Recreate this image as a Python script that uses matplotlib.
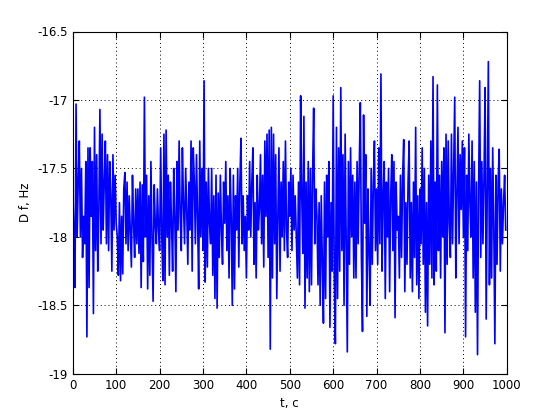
import matplotlib
matplotlib.use("Agg")
import matplotlib.pyplot as plt
import numpy as np

# frequency deviation, one value every 2.5 s
df = [
    -17.65, -17.95, -18.37, -17.03, -18.0, -17.6, -17.3, -18.0, -17.5, -18.15,
    -17.85, -18.05, -17.45, -18.73, -17.35, -18.37, -17.35, -17.85, -17.45, -18.56,
    -17.2, -18.1, -17.4, -18.25, -17.8, -17.07, -18.05, -17.25, -17.95, -17.6,
    -17.3, -18.05, -17.4, -18.1, -17.45, -17.7, -18.25, -17.4, -17.95, -17.55,
    -17.9, -18.0, -18.28, -17.75, -18.32, -17.85, -18.27, -17.65, -17.53, -18.05,
    -17.6, -18.1, -17.7, -17.95, -18.22, -17.55, -17.9, -18.15, -17.65, -18.05,
    -17.65, -18.12, -17.6, -18.37, -17.62, -18.18, -16.98, -18.0, -17.55, -18.38,
    -17.7, -18.28, -17.45, -18.0, -18.47, -17.62, -17.9, -18.05, -17.65, -17.95,
    -18.1, -17.35, -18.0, -18.32, -17.25, -18.35, -17.22, -18.0, -17.55, -18.28,
    -17.6, -17.9, -18.25, -17.5, -17.85, -18.4, -17.45, -17.95, -17.3, -17.85,
    -18.1, -17.35, -17.75, -18.05, -17.5, -17.8, -18.2, -17.6, -17.95, -17.3,
    -18.25, -17.35, -17.6, -18.05, -17.4, -17.85, -18.38, -17.3, -18.0, -17.5,
    -18.1, -16.86, -18.33, -17.6, -18.22, -17.5, -17.9, -18.05, -17.5, -18.28,
    -17.7, -18.45, -17.55, -18.52, -17.68, -18.15, -17.55, -17.95, -18.2, -17.6,
    -17.9, -17.45, -18.1, -17.7, -18.3, -17.5, -17.85, -18.5, -17.55, -18.38,
    -17.7, -17.95, -17.5, -18.22, -17.6, -17.28, -18.05, -17.7, -18.1, -17.85,
    -18.3, -17.7, -17.95, -17.45, -18.0, -17.6, -17.35, -18.2, -17.75, -18.3,
    -17.55, -17.95, -17.8, -17.4, -18.05, -17.55, -18.22, -17.3, -17.85, -17.25,
    -18.15, -17.22, -18.82, -17.2, -18.3, -17.25, -18.05, -17.4, -18.45, -17.85,
    -17.35, -18.25, -17.6, -18.0, -17.45, -18.1, -17.3, -17.95, -18.15, -17.6,
    -17.85, -17.5, -18.1, -17.55, -17.95, -17.7, -18.0, -18.3, -17.6, -18.35,
    -16.97, -17.7, -18.12, -17.12, -18.52, -17.6, -18.3, -17.45, -18.4, -17.5,
    -18.35, -17.55, -17.06, -18.05, -17.65, -17.85, -18.35, -17.75, -18.5, -17.7,
    -18.2, -18.63, -17.6, -18.45, -17.55, -18.0, -17.45, -18.66, -17.75, -18.25,
    -16.97, -18.3, -18.78, -17.2, -18.45, -17.35, -18.25, -16.91, -18.1, -17.4,
    -18.5, -17.25, -18.05, -18.84, -17.45, -18.2, -17.35, -18.0, -17.55, -18.3,
    -17.6, -18.3, -17.45, -18.05, -17.5, -17.02, -18.15, -18.69, -17.11, -17.9,
    -17.4, -18.58, -17.65, -18.1, -18.5, -17.5, -18.2, -17.6, -17.3, -18.1,
    -17.65, -18.2, -17.35, -18.05, -16.81, -18.25, -17.7, -17.45, -18.45, -17.6,
    -18.0, -17.5, -18.4, -17.7, -17.4, -18.1, -17.45, -18.59, -17.6, -17.95,
    -17.85, -18.3, -17.55, -18.15, -17.55, -17.29, -18.4, -17.75, -18.2, -17.6,
    -17.3, -18.3, -17.75, -18.4, -17.6, -18.15, -17.2, -18.35, -17.7, -18.45,
    -17.65, -18.05, -17.35, -18.2, -17.5, -18.55, -17.75, -18.65, -17.55, -18.2,
    -17.3, -18.3, -16.83, -18.35, -17.6, -18.25, -16.89, -18.1, -17.55, -18.3,
    -17.45, -18.0, -17.35, -18.7, -17.25, -18.2, -17.3, -17.9, -18.15, -17.25,
    -18.05, -17.5, -16.98, -18.3, -17.7, -17.2, -18.05, -17.4, -17.8, -17.3,
    -18.0, -17.35, -18.73, -17.55, -18.1, -17.25, -17.75, -18.0, -17.3, -18.3,
    -17.45, -18.55, -17.6, -18.86, -17.65, -16.86, -18.15, -17.45, -18.05, -17.55,
    -16.91, -18.6, -17.7, -16.72, -18.35, -17.5, -18.3, -17.35, -17.9, -18.78,
    -17.55, -18.2, -17.6, -17.36, -18.25, -17.65, -18.05, -17.75, -17.55, -17.95,
]
t = np.linspace(0, 997.5, len(df))

xticks = [0, 100, 200, 300, 400, 500, 600, 700, 800, 900, 1000]
yticks = [-19, -18.5, -18, -17.5, -17, -16.5]
ylabels = ['-19', '-18.5', '-18', '-17.5', '-17', '-16.5']

fig = plt.figure(figsize=(5.6, 4.2), dpi=100)
ax = fig.add_axes([0.13, 0.11, 0.775, 0.815])
ax.plot(t, df, color=(0, 0, 1), linewidth=1.2)

ax.set_xlim(0, 1000)
ax.set_ylim(-19, -16.5)
ax.set_xticks(xticks)
ax.set_yticks(yticks)
ax.set_yticklabels(ylabels)
ax.tick_params(direction='in', top=True, right=True, labelsize=8.5, length=4)
ax.grid(True, color='black', linestyle=(0, (1, 3)), linewidth=0.7)
for s in ax.spines.values():
    s.set_linewidth(0.8)

ax.set_xlabel('t, c', fontsize=8.5)
ax.set_ylabel('D f, Hz', fontsize=8.5)

fig.savefig('out.png', dpi=100)
